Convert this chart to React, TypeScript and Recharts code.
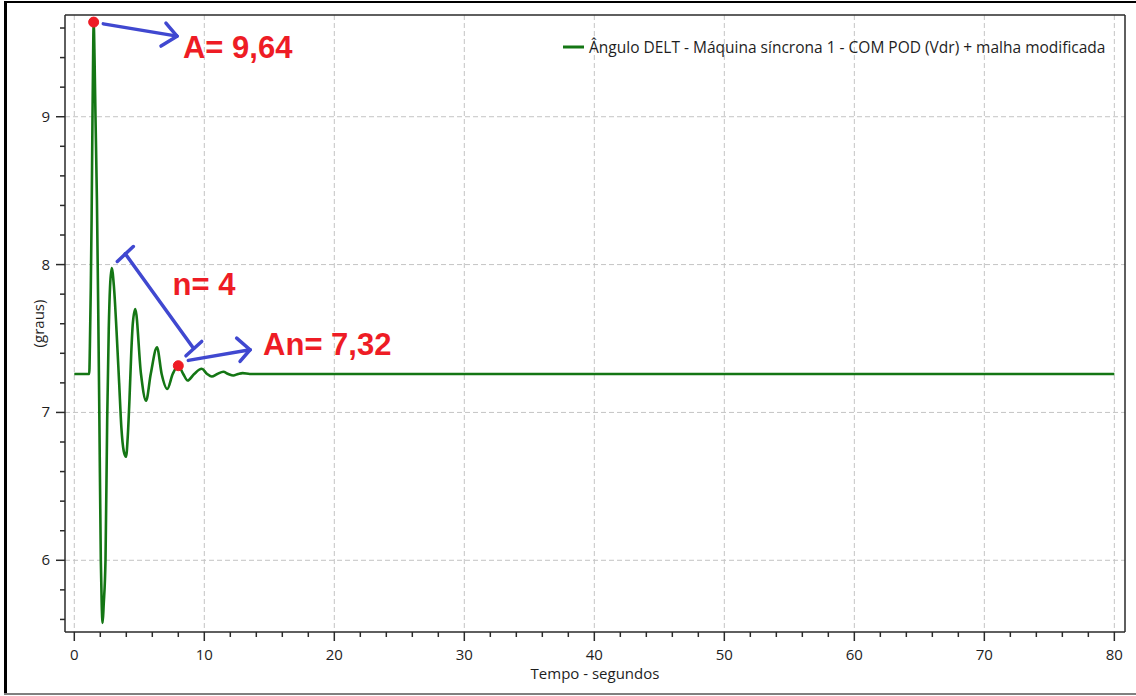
import React from 'react';
import {
  LineChart,
  Line,
  XAxis,
  YAxis,
  CartesianGrid,
  ReferenceLine,
  ReferenceDot,
  Legend,
} from 'recharts';

// ---- data (time in seconds, angle in degrees) ----
const time = [
  0, 1.0, 1.15, 1.2, 1.27, 1.33, 1.4, 1.44, 1.49, 1.56, 1.63, 1.74, 1.84, 1.93, 2.04, 2.11, 2.18,
  2.26, 2.4, 2.53, 2.65, 2.75, 2.88, 3.05, 3.25, 3.45, 3.62, 3.8, 3.98, 4.12, 4.25, 4.38, 4.5, 4.69,
  5.13, 5.52, 5.88, 6.36, 6.72, 7.15, 7.57, 8.0, 8.38, 8.72, 9.22, 9.8, 10.22, 10.57, 11.0, 11.46,
  11.85, 12.23, 12.6, 12.95, 13.5, 14.5, 20, 30, 40, 50, 60, 70, 80,
];
const angle = [
  7.26, 7.26, 7.26, 7.45, 7.85, 8.3, 9.0, 9.34, 9.64, 9.38, 9.0, 8.44, 7.7, 6.95, 6.0, 5.7, 5.576,
  5.7, 6.0, 6.95, 7.56, 7.85, 7.976, 7.85, 7.55, 7.2, 6.9, 6.74, 6.7, 6.85, 7.1, 7.4, 7.6, 7.7,
  7.26, 7.08, 7.26, 7.44, 7.26, 7.158, 7.26, 7.316, 7.26, 7.216, 7.26, 7.295, 7.26, 7.243, 7.26, 7.275,
  7.26, 7.25, 7.26, 7.266, 7.26, 7.26, 7.26, 7.26, 7.26, 7.26, 7.26, 7.26, 7.26,
];

const xTicks = [
  0, 2, 4, 6, 8, 10, 12, 14, 16, 18, 20, 22, 24, 26, 28, 30, 32, 34, 36, 38, 40, 42, 44, 46, 48, 50,
  52, 54, 56, 58, 60, 62, 64, 66, 68, 70, 72, 74, 76, 78, 80,
];
const yTicks = [
  5.6, 5.8, 6, 6.2, 6.4, 6.6, 6.8, 7, 7.2, 7.4, 7.6, 7.8, 8, 8.2, 8.4, 8.6, 8.8, 9, 9.2, 9.4, 9.6,
];
const xGrid = [0, 10, 20, 30, 40, 50, 60, 70, 80];
const yGrid = [6, 7, 8, 9];
const X_DOMAIN: [number, number] = [-0.715, 80.82];
const Y_DOMAIN: [number, number] = [5.515, 9.688];

const seriesName = 'Ângulo DELT - Máquina síncrona 1 - COM POD (Vdr) + malha modificada';
const xLabel = 'Tempo - segundos';
const yLabel = '(graus)';

// ---- annotations (data coordinates) ----
const markedPoints = [
  { t: 1.49, v: 9.64 },
  { t: 8.0, v: 7.316 },
];
const arrowSegments: [number, number, number, number][] = [
  // arrow to "A= 9,64"
  [2.23, 9.628, 7.9, 9.545],
  [7.05, 9.633, 7.9, 9.545],
  [6.67, 9.478, 7.9, 9.545],
  // bracket n = 4
  [3.92, 8.073, 9.18, 7.433],
  [3.31, 8.021, 4.54, 8.122],
  [8.59, 7.383, 9.8, 7.48],
  // arrow to "An= 7,32"
  [8.77, 7.352, 13.52, 7.424],
  [12.49, 7.503, 13.52, 7.424],
  [12.75, 7.345, 13.52, 7.424],
];
const notes = [
  { t: 8.36, v: 9.4, text: 'A= 9,64' },
  { t: 7.56, v: 7.796, text: 'n= 4' },
  { t: 14.52, v: 7.39, text: 'An= 7,32' },
];

const data = time.map((t, i) => ({ t, v: angle[i] }));

const FONT = '"Open Sans", "Noto Sans", sans-serif';
const GREEN = '#147614';
const AXIS = '#2a2a2a';
const TEXT = '#1e1e1e';
const BLUE = '#4048d0';
const RED = '#ee1c25';

const XTick = (props: any) => {
  const { x, y, payload } = props;
  const val = payload.value;
  const major = Math.abs(val % 10) < 1e-6;
  return (
    <g>
      <line x1={x} x2={x} y1={y} y2={y + (major ? 9 : 5)} stroke={AXIS} strokeWidth={1.5} />
      {major && (
        <text x={x} y={y + 28} textAnchor="middle" fontFamily={FONT} fontSize={15} fill={TEXT}>
          {val}
        </text>
      )}
    </g>
  );
};

const YTick = (props: any) => {
  const { x, y, payload } = props;
  const val = payload.value;
  const major = Math.abs(val - Math.round(val)) < 1e-6;
  return (
    <g>
      <line x1={x} x2={x - (major ? 9 : 5)} y1={y} y2={y} stroke={AXIS} strokeWidth={1.5} />
      {major && (
        <text x={x - 15} y={y + 5} textAnchor="end" fontFamily={FONT} fontSize={15} fill={TEXT}>
          {Math.round(val)}
        </text>
      )}
    </g>
  );
};

const XAxisLabel = (props: any) => {
  const vb = props.viewBox;
  return (
    <text x={vb.x + vb.width / 2} y={vb.y + 47} textAnchor="middle" fontFamily={FONT} fontSize={15} fill={TEXT}>
      {xLabel}
    </text>
  );
};

const YAxisLabel = (props: any) => {
  const vb = props.viewBox;
  const cx = vb.x + 33;
  const cy = vb.y + vb.height / 2;
  return (
    <text
      x={cx}
      y={cy}
      textAnchor="middle"
      dominantBaseline="central"
      transform={`rotate(-90, ${cx}, ${cy})`}
      fontFamily={FONT}
      fontSize={15}
      fill={TEXT}
    >
      {yLabel}
    </text>
  );
};

const LegendContent = (props: any) => {
  const items = props.payload || [];
  return (
    <div style={{ display: 'flex', flexDirection: 'column' }}>
      {items.map((it: any, i: number) => (
        <div key={i} style={{ display: 'flex', alignItems: 'center', whiteSpace: 'nowrap' }}>
          <svg width={21} height={10} style={{ display: 'block' }}>
            <line x1={0} x2={21} y1={5} y2={5} stroke={it.color} strokeWidth={3} />
          </svg>
          <span style={{ marginLeft: 5, fontFamily: FONT, fontSize: 15.5, color: TEXT, lineHeight: '20px' }}>
            {it.value}
          </span>
        </div>
      ))}
    </div>
  );
};

const NoteShape = (text: string) => (props: any) => (
  <text
    x={props.cx}
    y={props.cy}
    textAnchor="start"
    fontFamily='"Liberation Sans", Arial, sans-serif'
    fontWeight={700}
    fontSize={31}
    fill={RED}
  >
    {text}
  </text>
);

export default function App() {
  return (
    <div style={{ position: 'absolute', left: 0, top: 0, width: 1136, height: 696, background: '#fff' }}>
      <div style={{ position: 'absolute', left: 4, top: 1, width: 1132, height: 2, background: '#000' }} />
      <div style={{ position: 'absolute', left: 4, top: 1, width: 3, height: 694, background: '#000' }} />
      <div style={{ position: 'absolute', left: 4, top: 693, width: 1132, height: 2, background: '#808080' }} />
      <div style={{ position: 'absolute', left: 0, top: 0 }}>
        <LineChart width={1136} height={696} data={data} margin={{ top: 15, right: 11, bottom: 4, left: 5 }}>
          <CartesianGrid
            verticalValues={xGrid}
            horizontalValues={yGrid}
            stroke="#c4c4c4"
            strokeDasharray="5 3"
          />
          <XAxis
            dataKey="t"
            type="number"
            domain={X_DOMAIN}
            allowDataOverflow
            ticks={xTicks}
            interval={0}
            tick={<XTick />}
            tickLine={false}
            tickSize={0}
            tickMargin={0}
            height={60}
            axisLine={{ stroke: AXIS, strokeWidth: 1.5 }}
            label={<XAxisLabel />}
          />
          <YAxis
            type="number"
            domain={Y_DOMAIN}
            allowDataOverflow
            ticks={yTicks}
            interval={0}
            tick={<YTick />}
            tickLine={false}
            tickSize={0}
            tickMargin={0}
            width={60}
            axisLine={{ stroke: AXIS, strokeWidth: 1.5 }}
            label={<YAxisLabel />}
          />
          <ReferenceLine y={Y_DOMAIN[1]} stroke={AXIS} strokeWidth={1.5} ifOverflow="visible" />
          <ReferenceLine x={X_DOMAIN[1]} stroke={AXIS} strokeWidth={1.5} ifOverflow="visible" />
          <Legend
            layout="horizontal"
            verticalAlign="middle"
            align="center"
            content={<LegendContent />}
            wrapperStyle={{ top: 37, left: 563, right: 'auto', bottom: 'auto', width: 'auto' }}
          />
          <Line
            dataKey="v"
            name={seriesName}
            type="monotone"
            stroke={GREEN}
            strokeWidth={2.6}
            dot={false}
            activeDot={false}
            isAnimationActive={false}
          />
          {arrowSegments.map((s, i) => (
            <ReferenceLine
              key={`a${i}`}
              segment={[
                { x: s[0], y: s[1] },
                { x: s[2], y: s[3] },
              ]}
              stroke={BLUE}
              strokeWidth={3.5}
              strokeLinecap="round"
              ifOverflow="visible"
            />
          ))}
          {markedPoints.map((p, i) => (
            <ReferenceDot key={`d${i}`} x={p.t} y={p.v} r={5} fill={RED} stroke={RED} strokeWidth={1} ifOverflow="visible" />
          ))}
          {notes.map((n, i) => (
            <ReferenceDot key={`n${i}`} x={n.t} y={n.v} r={0} ifOverflow="visible" shape={NoteShape(n.text)} />
          ))}
        </LineChart>
      </div>
    </div>
  );
}
